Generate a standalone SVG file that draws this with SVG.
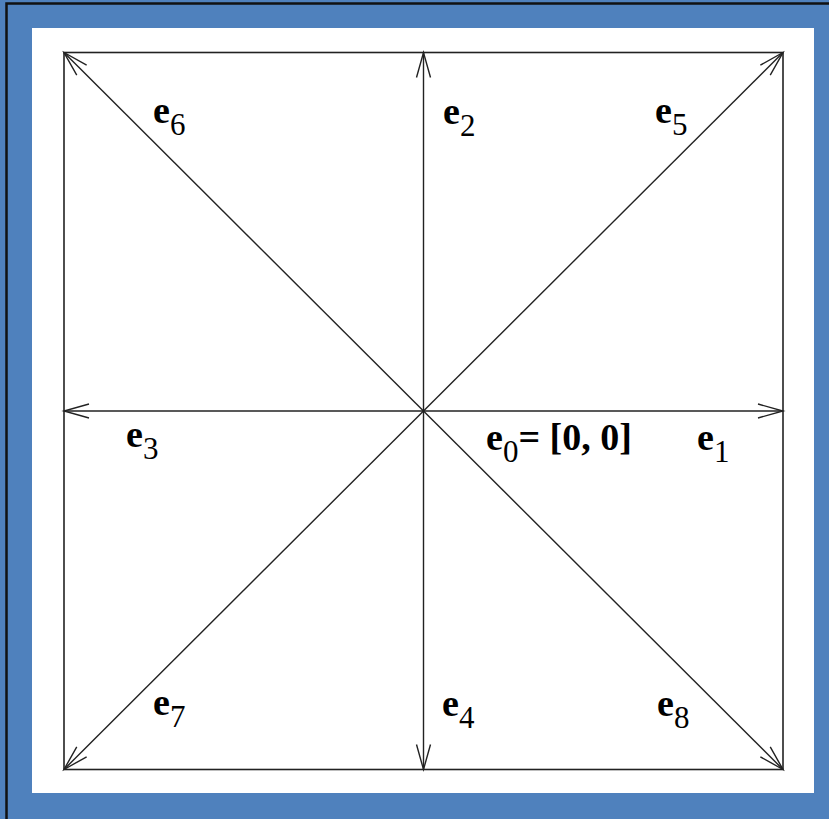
<svg xmlns="http://www.w3.org/2000/svg" width="829" height="819" viewBox="0 0 829 819">
<style>
.sq{fill:none;stroke:#222;stroke-width:1.6;}
.vec{stroke:#222;stroke-width:1.4;fill:none;marker-end:url(#open);}
.lbl{font-family:"Liberation Serif","Times New Roman",serif;fill:#000;}
.b{font-weight:bold;font-size:38px;}
.s{font-size:31px;}
</style>
<defs>
<marker id="open" markerUnits="userSpaceOnUse" viewBox="-27 -9 29 18" refX="0" refY="0" markerWidth="29" markerHeight="18" orient="auto" overflow="visible">
<path d="M-25,-7 L0,0 L-25,7" fill="none" stroke="#222" stroke-width="1.4"/>
</marker>
</defs>
<rect x="0" y="0" width="829" height="819" fill="#4f81bd"/>
<rect x="6.5" y="3.5" width="840" height="840" fill="none" stroke="#111" stroke-width="2.5"/>
<rect x="32" y="28" width="782" height="765" fill="#ffffff"/>
<rect id="box" class="sq" x="64" y="52.5" width="719" height="717"/>
<g id="connectors">
<line class="vec" x1="423.5" y1="411" x2="783" y2="411"/>
<line class="vec" x1="423.5" y1="411" x2="423.5" y2="52.5"/>
<line class="vec" x1="423.5" y1="411" x2="64" y2="411"/>
<line class="vec" x1="423.5" y1="411" x2="423.5" y2="769.5"/>
<line class="vec" x1="423.5" y1="411" x2="783" y2="52.5"/>
<line class="vec" x1="423.5" y1="411" x2="64" y2="52.5"/>
<line class="vec" x1="423.5" y1="411" x2="64" y2="769.5"/>
<line class="vec" x1="423.5" y1="411" x2="783" y2="769.5"/>
</g>
<g id="e0"><text class="lbl" x="486" y="450"><tspan class="b">e</tspan><tspan class="s" dy="12">0</tspan><tspan class="b" dy="-12">= [0, 0]</tspan></text></g>
<g id="e1"><text class="lbl" x="697" y="450"><tspan class="b">e</tspan><tspan class="s" dy="12">1</tspan></text></g>
<g id="e2"><text class="lbl" x="443" y="124"><tspan class="b">e</tspan><tspan class="s" dy="12">2</tspan></text></g>
<g id="e3"><text class="lbl" x="126" y="447"><tspan class="b">e</tspan><tspan class="s" dy="12">3</tspan></text></g>
<g id="e4"><text class="lbl" x="442" y="716"><tspan class="b">e</tspan><tspan class="s" dy="12">4</tspan></text></g>
<g id="e5"><text class="lbl" x="655" y="123"><tspan class="b">e</tspan><tspan class="s" dy="12">5</tspan></text></g>
<g id="e6"><text class="lbl" x="153" y="123"><tspan class="b">e</tspan><tspan class="s" dy="12">6</tspan></text></g>
<g id="e7"><text class="lbl" x="153" y="715"><tspan class="b">e</tspan><tspan class="s" dy="12">7</tspan></text></g>
<g id="e8"><text class="lbl" x="657" y="716"><tspan class="b">e</tspan><tspan class="s" dy="12">8</tspan></text></g>
</svg>
